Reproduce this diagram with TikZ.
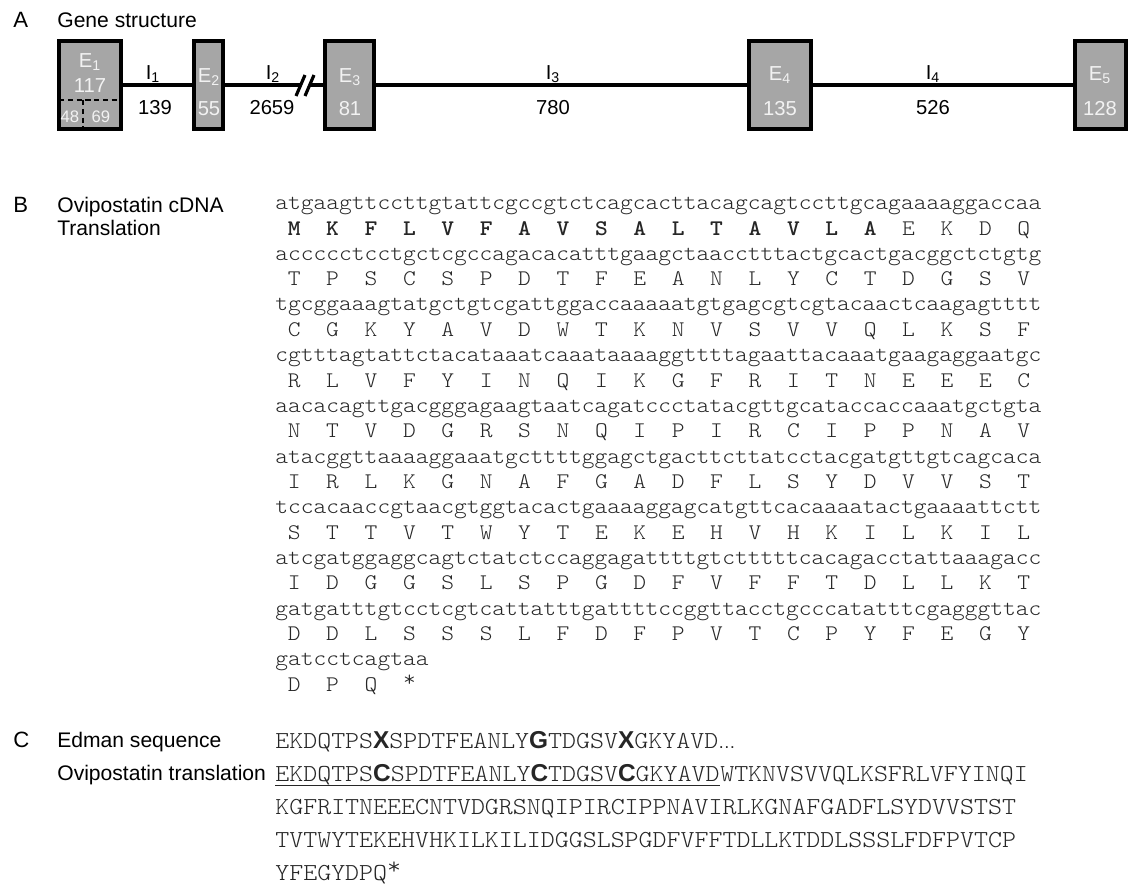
\documentclass[tikz,border=0pt]{standalone}
\usepackage{fontspec}
\setmainfont{Liberation Sans}
\newfontfamily\seqfont[FakeStretch=1.09]{Latin Modern Mono Light}
\newfontfamily\boldsans{Liberation Sans}
\definecolor{exongray}{HTML}{A6A6A6}
\definecolor{exontext}{HTML}{F2F2F2}
\definecolor{seqgray}{HTML}{262626}
\newcommand{\chw}{12.8}   % width of one sequence character (px)
\newcommand{\seqx}{275}   % left edge of the sequences
\newcommand{\hb}[1]{{\boldsans\bfseries #1}}
\newcommand{\stopc}{\raisebox{0.22em}{*}}

\begin{document}
\begin{tikzpicture}[x=0.02cm, y=-0.02cm,
    exon/.style={draw=black, line width=2.3pt, fill=exongray, inner sep=0, minimum height=1.76cm},
    intron/.style={line width=2.3pt},
    inlab/.style={inner sep=0, anchor=base, font=\fontsize{11.5}{13}\selectfont},
    exlab/.style={inlab, text=exontext},
    panel/.style={inner sep=0, anchor=base west, font=\fontsize{12}{14}\selectfont},
    dna/.style={inner sep=0, anchor=base west, text=seqgray, font=\seqfont\fontsize{12.7}{14}\selectfont},
    aa/.style={inner sep=0, anchor=base, text=seqgray, font=\seqfont\fontsize{12.7}{14}\selectfont},
    prot/.style={inner sep=0, anchor=base west, text=seqgray, font=\seqfont\fontsize{13.9}{16}\selectfont}]
  \useasboundingbox (0,0) rectangle (1130,887);

  % A: gene structure
  \node[panel, font=\fontsize{12.6}{14}\selectfont] (labA) at (13,27.5) {A};
  \node[panel] (gene) at (57,27.5) {Gene structure};

  \node[exon, minimum width=1.24cm] (e1) at (90,85) {};
  \node[exon, minimum width=0.58cm] (e2) at (208.5,85) {};
  \node[exon, minimum width=0.98cm] (e3) at (349.5,85) {};
  \node[exon, minimum width=1.24cm] (e4) at (780,85) {};
  \node[exon, minimum width=1.02cm] (e5) at (1100.5,85) {};

  \draw[intron] (e1.east) -- (e2.west);
  \draw[intron] (e2.east) -- (e3.west);
  \draw[intron] (e3.east) -- (e4.west);
  \draw[intron] (e4.east) -- (e5.west);
  % break in intron 2
  \draw[white, line width=4pt] (301,97) -- (310,74);
  \draw[line width=1.8pt] (296,96) -- (305,75);
  \draw[line width=1.8pt] (305,96) -- (314,75);

  \node[exlab] (e1n) at (90,67.5) {E\textsubscript{1}};
  \node[exlab] (e1l) at (90,92) {117};
  \draw[densely dashed, line width=0.7pt] (59,100) -- (121,100);
  \draw[densely dashed, line width=0.7pt] (83,100) -- (83,129);
  \node[exlab, font=\fontsize{9.5}{11}\selectfont] (e1a) at (70,122) {48};
  \node[exlab, font=\fontsize{9.5}{11}\selectfont] (e1b) at (101,122) {69};
  \node[exlab] (e2n) at (209,82) {E\textsubscript{2}};
  \node[exlab] (e2l) at (209,115) {55};
  \node[exlab] (e3n) at (350,82) {E\textsubscript{3}};
  \node[exlab] (e3l) at (350,115) {81};
  \node[exlab] (e4n) at (780,80) {E\textsubscript{4}};
  \node[exlab] (e4l) at (780,115) {135};
  \node[exlab] (e5n) at (1100,80) {E\textsubscript{5}};
  \node[exlab] (e5l) at (1100,115) {128};

  \node[inlab] (i1n) at (153,79) {I\textsubscript{1}};
  \node[inlab] (i1l) at (155,114) {139};
  \node[inlab] (i2n) at (273,79) {I\textsubscript{2}};
  \node[inlab] (i2l) at (272,114) {2659};
  \node[inlab] (i3n) at (553,79) {I\textsubscript{3}};
  \node[inlab] (i3l) at (553,114) {780};
  \node[inlab] (i4n) at (933,79) {I\textsubscript{4}};
  \node[inlab] (i4l) at (933,114) {526};

  % B: cDNA and translation
  \node[panel, font=\fontsize{12.6}{14}\selectfont] (labB) at (13,212) {B};
  \node[panel] (cdna) at (57,212) {Ovipostatin cDNA};
  \node[panel] (trl) at (57,235) {Translation};

  \foreach \s [count=\r from 0] in {
      atgaagttccttgtattcgccgtctcagcacttacagcagtccttgcagaaaaggaccaa,
      accccctcctgctcgccagacacatttgaagctaacctttactgcactgacggctctgtg,
      tgcggaaagtatgctgtcgattggaccaaaaatgtgagcgtcgtacaactcaagagtttt,
      cgtttagtattctacataaatcaaataaaaggttttagaattacaaatgaagaggaatgc,
      aacacagttgacgggagaagtaatcagatccctatacgttgcataccaccaaatgctgta,
      atacggttaaaaggaaatgcttttggagctgacttcttatcctacgatgttgtcagcaca,
      tccacaaccgtaacgtggtacactgaaaaggagcatgttcacaaaatactgaaaattctt,
      atcgatggaggcagtctatctccaggagattttgtctttttcacagacctattaaagacc,
      gatgatttgtcctcgtcattatttgattttccggttacctgcccatatttcgagggttac,
      gatcctcagtaa}
    \node[dna] (dna\r) at (\seqx,209.5+50.7*\r) {\s};

  \foreach \p [count=\r from 0] in {
      {\textbf{M},\textbf{K},\textbf{F},\textbf{L},\textbf{V},\textbf{F},\textbf{A},\textbf{V},\textbf{S},\textbf{A},\textbf{L},\textbf{T},\textbf{A},\textbf{V},\textbf{L},\textbf{A},E,K,D,Q},
      {T,P,S,C,S,P,D,T,F,E,A,N,L,Y,C,T,D,G,S,V},
      {C,G,K,Y,A,V,D,W,T,K,N,V,S,V,V,Q,L,K,S,F},
      {R,L,V,F,Y,I,N,Q,I,K,G,F,R,I,T,N,E,E,E,C},
      {N,T,V,D,G,R,S,N,Q,I,P,I,R,C,I,P,P,N,A,V},
      {I,R,L,K,G,N,A,F,G,A,D,F,L,S,Y,D,V,V,S,T},
      {S,T,T,V,T,W,Y,T,E,K,E,H,V,H,K,I,L,K,I,L},
      {I,D,G,G,S,L,S,P,G,D,F,V,F,F,T,D,L,L,K,T},
      {D,D,L,S,S,S,L,F,D,F,P,V,T,C,P,Y,F,E,G,Y},
      {D,P,Q,\stopc}}
    \foreach \a [count=\i from 0] in \p
      \node[aa] (aa\r-\i) at (\seqx+\chw*3*\i+1.5*\chw,235+50.7*\r) {\a};

  % C: Edman sequence vs translation
  \node[panel, font=\fontsize{12.6}{14}\selectfont] (labC) at (13,747.5) {C};
  \node[panel] (edl) at (57,747.5) {Edman sequence};
  \node[panel] (otl) at (57,780.5) {Ovipostatin translation};

  \node[prot] (edman) at (\seqx,748) {EKDQTPS\hb{X}SPDTFEANLY\hb{G}TDGSV\hb{X}GKYAVD{\boldsans\fontsize{10}{12}\selectfont\dots}};
  \node[prot] (trU) at (\seqx,781) {EKDQTPS\hb{C}SPDTFEANLY\hb{C}TDGSV\hb{C}GKYAVD};
  \node[prot] (trR) at (trU.base east) {WTKNVSVVQLKSFRLVFYINQI};
  \draw[seqgray, line width=0.6pt] ([yshift=-2.5pt]trU.base west) -- ([yshift=-2.5pt]trU.base east);
  \node[prot] (tr2) at (\seqx,814) {KGFRITNEEECNTVDGRSNQIPIRCIPPNAVIRLKGNAFGADFLSYDVVSTST};
  \node[prot] (tr3) at (\seqx,847) {TVTWYTEKEHVHKILKILIDGGSLSPGDFVFFTDLLKTDDLSSSLFDFPVTCP};
  \node[prot] (tr4) at (\seqx,880) {YFEGYDPQ\stopc};
\end{tikzpicture}
\end{document}
